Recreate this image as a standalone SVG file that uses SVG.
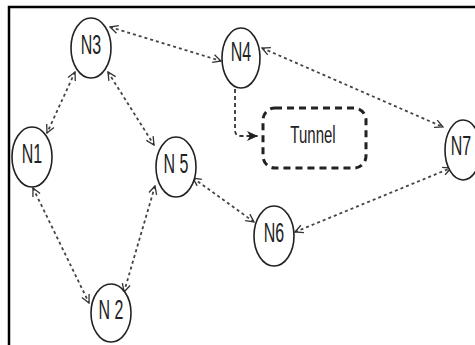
<svg xmlns="http://www.w3.org/2000/svg" width="475" height="345" viewBox="0 0 475 345">
  <defs>
    <style>
      .node ellipse { fill: #fff; stroke: #222; stroke-width: 1.6; }
      .node text { font-family: "Liberation Sans", Arial, sans-serif; font-size: 16px; fill: #222; text-anchor: middle; }
      .link { fill: none; stroke: #444; stroke-width: 1.8; stroke-dasharray: 3 3; marker-start: url(#open); marker-end: url(#open); }
      .frame { stroke: #000; stroke-width: 2.5; fill: none; }
      .tunnel rect { fill: none; stroke: #222; stroke-width: 3; stroke-dasharray: 7 5; }
    </style>
    <marker id="open" viewBox="0 0 10 10" refX="9" refY="5" markerWidth="10" markerHeight="10" markerUnits="userSpaceOnUse" orient="auto-start-reverse">
      <path d="M1,1 L9,5 L1,9" fill="none" stroke="#333" stroke-width="1.3" stroke-dasharray="none"/>
    </marker>
    <marker id="solid" viewBox="0 0 12 10" refX="11" refY="5" markerWidth="12" markerHeight="10" markerUnits="userSpaceOnUse" orient="auto">
      <path d="M0,0 L11,5 L0,10 L3,5 Z" fill="#222" stroke="none"/>
    </marker>
  </defs>

  <rect width="475" height="345" fill="#fff"/>

  <!-- frame (top and left edges) -->
  <path class="frame" d="M9,345 L9,7 L475,7"/>

  <!-- connectors -->
  <g id="connectors">
    <path class="link" d="M110,27 L221,61"/>
    <path class="link" d="M75,72 L47,133"/>
    <path class="link" d="M108,72 L154,145"/>
    <path class="link" d="M33,188 L89,303"/>
    <path class="link" d="M155,186 L124,292"/>
    <path class="link" d="M193,178 L254,222"/>
    <path class="link" d="M295,232 L451,168"/>
    <path class="link" d="M262,48 L443,127"/>
    <path d="M235,82 L235,130 Q235,136 241,136 L258,136" fill="none" stroke="#333" stroke-width="1.8" stroke-dasharray="4 3" marker-end="url(#solid)"/>
  </g>

  <!-- tunnel -->
  <g id="tunnel" class="tunnel">
    <rect x="263" y="108" width="103" height="60" rx="12" ry="12"/>
    <text transform="translate(313,143) scale(1,1.6)" font-family="Liberation Sans, Arial, sans-serif" font-size="15" fill="#222" text-anchor="middle">Tunnel</text>
  </g>

  <!-- nodes -->
  <g id="N3" class="node">
    <ellipse cx="91" cy="48" rx="20" ry="30"/>
    <text transform="translate(91,54) scale(1,1.7)">N3</text>
  </g>
  <g id="N1" class="node">
    <ellipse cx="32" cy="157" rx="20" ry="30"/>
    <text transform="translate(32,163) scale(1,1.7)">N1</text>
  </g>
  <g id="N5" class="node">
    <ellipse cx="176" cy="167" rx="20" ry="30"/>
    <text transform="translate(176,173) scale(1,1.7)">N 5</text>
  </g>
  <g id="N2" class="node">
    <ellipse cx="111" cy="313" rx="20" ry="29"/>
    <text transform="translate(111,319) scale(1,1.7)">N 2</text>
  </g>
  <g id="N4" class="node">
    <ellipse cx="241" cy="58" rx="19" ry="30"/>
    <text transform="translate(241,61) scale(1,1.7)">N4</text>
  </g>
  <g id="N7" class="node">
    <ellipse cx="463" cy="150" rx="18" ry="30"/>
    <text transform="translate(461,155) scale(1,1.7)">N7</text>
  </g>
  <g id="N6" class="node">
    <ellipse cx="274" cy="236" rx="20" ry="30"/>
    <text transform="translate(274,242) scale(1,1.7)">N6</text>
  </g>
</svg>
